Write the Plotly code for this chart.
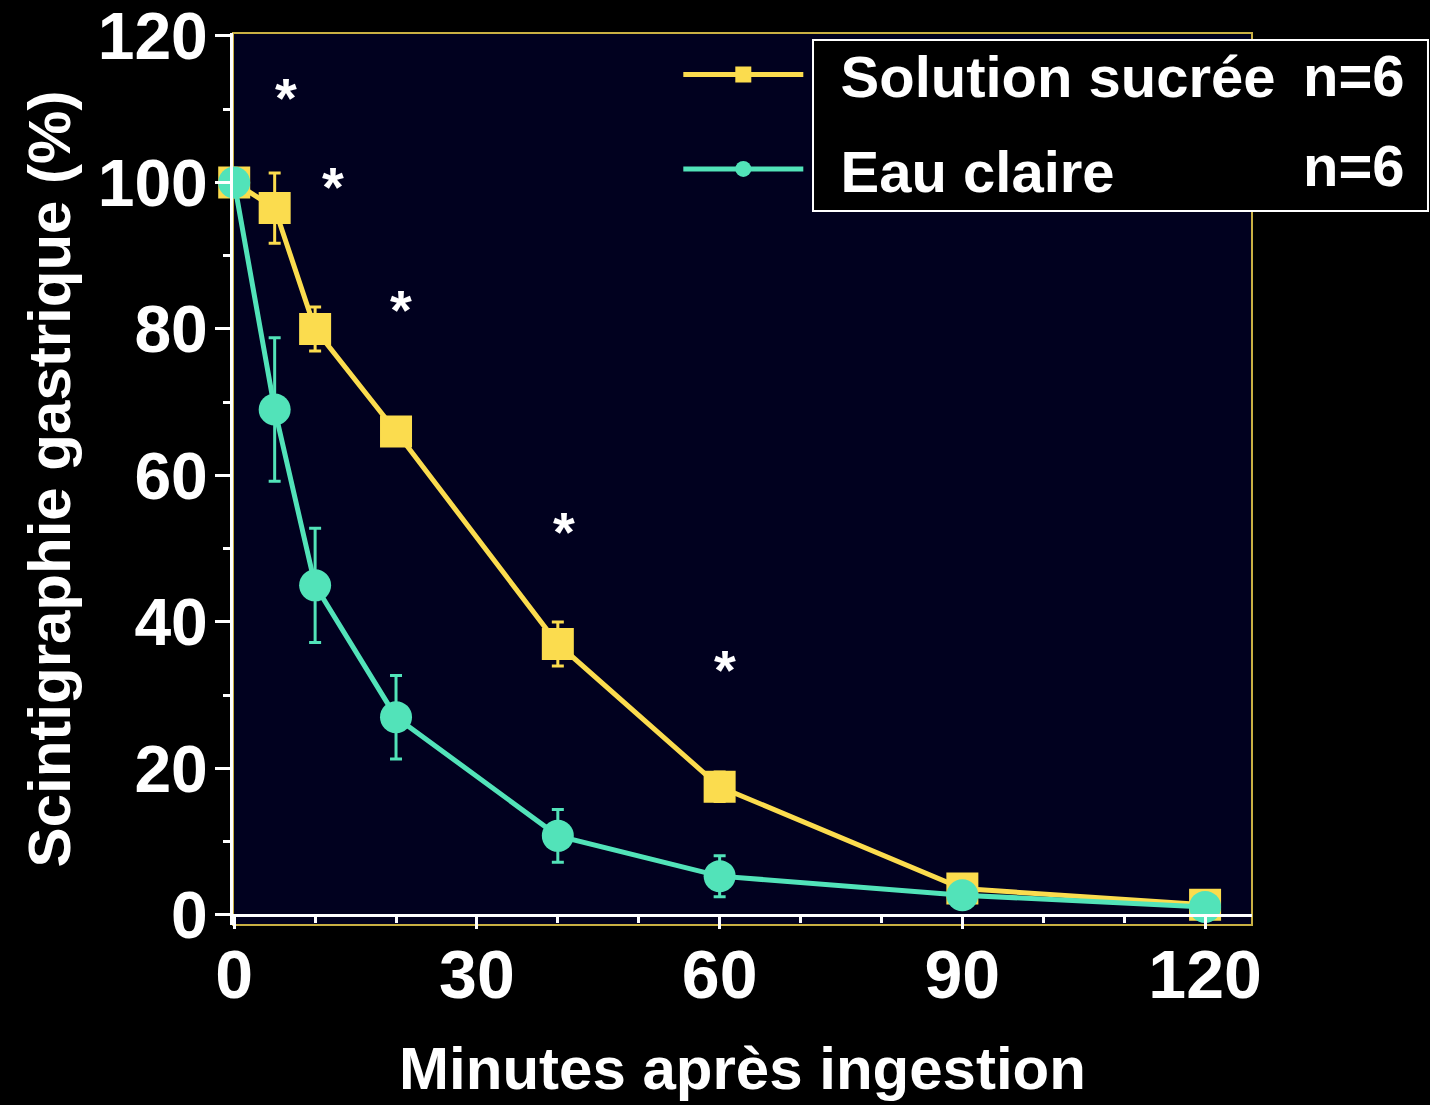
'''
Gastric emptying scintigraphy: sugar solution vs plain water.
'''

import plotly.graph_objects as go


MINUTES = [0, 5, 10, 20, 40, 60, 90, 120]

SUCRE_NAME = 'Solution sucrée'
SUCRE_MEAN = [100, 96.5, 80, 66, 37, 17.5, 3.6, 1.4]
SUCRE_ERR  = [0, 4.8, 3, 1.5, 3, 2, 0, 0]

EAU_NAME = 'Eau claire'
EAU_MEAN = [100, 69, 45, 27, 10.8, 5.3, 2.7, 1.1]
EAU_ERR  = [0, 9.8, 7.8, 5.7, 3.6, 2.8, 0, 0]

GROUP_N = ['n=6', 'n=6']

# significance markers (minutes, %)
STAR_X = [6.4, 12.2, 20.6, 40.7, 60.7]
STAR_Y = [111.6, 99.4, 82.7, 52.4, 33.5]

YELLOW = '#fbdc4e'
TEAL   = '#52e3b9'
NAVY   = '#01011f'
FONT   = 'Liberation Sans, Arial, sans-serif'

Y_MIN, Y_MAX = -1.37, 120.4


fig = go.Figure()
fig.add_trace(go.Scatter(
    x = MINUTES,
    y = SUCRE_MEAN,
    name = '\u00a0\u00a0' + SUCRE_NAME,
    mode = 'lines+markers',
    line = dict(color=YELLOW, width=5),
    marker = dict(symbol='square', size=32, color=YELLOW),
    error_y = dict(type='data', array=SUCRE_ERR, color=YELLOW, thickness=3, width=6),
    legendgroup = 'a',
    cliponaxis = False
))
fig.add_trace(go.Scatter(
    x = MINUTES,
    y = EAU_MEAN,
    name = '\u00a0\u00a0' + EAU_NAME,
    mode = 'lines+markers',
    line = dict(color=TEAL, width=5),
    marker = dict(symbol='circle', size=32, color=TEAL),
    error_y = dict(type='data', array=EAU_ERR, color=TEAL, thickness=3, width=6),
    legendgroup = 'b',
    cliponaxis = False
))

for sx, sy in zip(STAR_X, STAR_Y):
    fig.add_annotation(
        x = sx, y = sy, text = '*', showarrow = False,
        font = dict(family=FONT, size=56, color='white', weight='bold')
    )

# plot frame (gold) and legend box (black, white border)
fig.add_shape(type='rect', xref='paper', yref='paper', x0=0, x1=1, y0=0, y1=1,
              line=dict(color='#c9b043', width=2), layer='below')
fig.add_shape(type='rect', xref='paper', yref='paper', x0=0.5692, x1=1.1727, y0=0.8004, y1=0.9922,
              line=dict(color='white', width=2), fillcolor='black', layer='above')

for i, label in enumerate(GROUP_N):
    fig.add_annotation(
        xref = 'paper', yref = 'paper', x = 1.1521, y = [0.952, 0.852][i],
        xanchor = 'right', yanchor = 'middle', text = label, showarrow = False,
        font = dict(family=FONT, size=58, color='white', weight='bold')
    )

fig.update_layout(
    width = 1430,
    height = 1105,
    margin = dict(l=233, r=178, t=33, b=180),
    paper_bgcolor = 'black',
    plot_bgcolor = NAVY,
    font = dict(family=FONT, color='white', weight='bold'),
    showlegend = True,
    legend = dict(
        x = 0.437, y = 1.003, xanchor = 'left', yanchor = 'top',
        bgcolor = 'rgba(0,0,0,0)',
        font = dict(size=58, color='white', family=FONT, weight='bold'),
        itemwidth = 120,
        traceorder = 'grouped',
        tracegroupgap = 16
    ),
    xaxis = dict(
        range = [-0.15, 125.8],
        tickvals = [0, 30, 60, 90, 120],
        automargin = False,
        showgrid = False, zeroline = False,
        showline = True, linecolor = 'white', linewidth = 3,
        anchor = 'free', position = -Y_MIN / (Y_MAX - Y_MIN),
        ticks = 'outside', ticklen = 12, tickwidth = 3, tickcolor = 'white',
        minor = dict(dtick=10, ticks='outside', ticklen=6, tickwidth=3, tickcolor='white'),
        tickfont = dict(size=68, family=FONT, color='white', weight='bold'),
        ticklabelstandoff = -13,
        ticklabeloverflow = 'allow',
        title = dict(text='Minutes après ingestion', standoff=36,
                     font=dict(size=60, color='white', weight='bold'))
    ),
    yaxis = dict(
        range = [Y_MIN, Y_MAX],
        tickvals = [0, 20, 40, 60, 80, 100, 120],
        automargin = False,
        showgrid = False, zeroline = False,
        showline = True, linecolor = 'white', linewidth = 3,
        ticks = 'outside', ticklen = 15, tickwidth = 3, tickcolor = 'white',
        minor = dict(dtick=10, ticks='outside', ticklen=7, tickwidth=3, tickcolor='white'),
        tickfont = dict(size=66, family=FONT, color='white', weight='bold'),
        ticklabelstandoff = -6,
        ticklabeloverflow = 'allow',
        title = dict(text='Scintigraphie gastrique (%)', standoff=8,
                     font=dict(size=60, color='white', weight='bold'))
    )
)

fig.write_html('out.html', config={'displayModeBar': False},
               post_script="document.body.style.margin = '0';")
